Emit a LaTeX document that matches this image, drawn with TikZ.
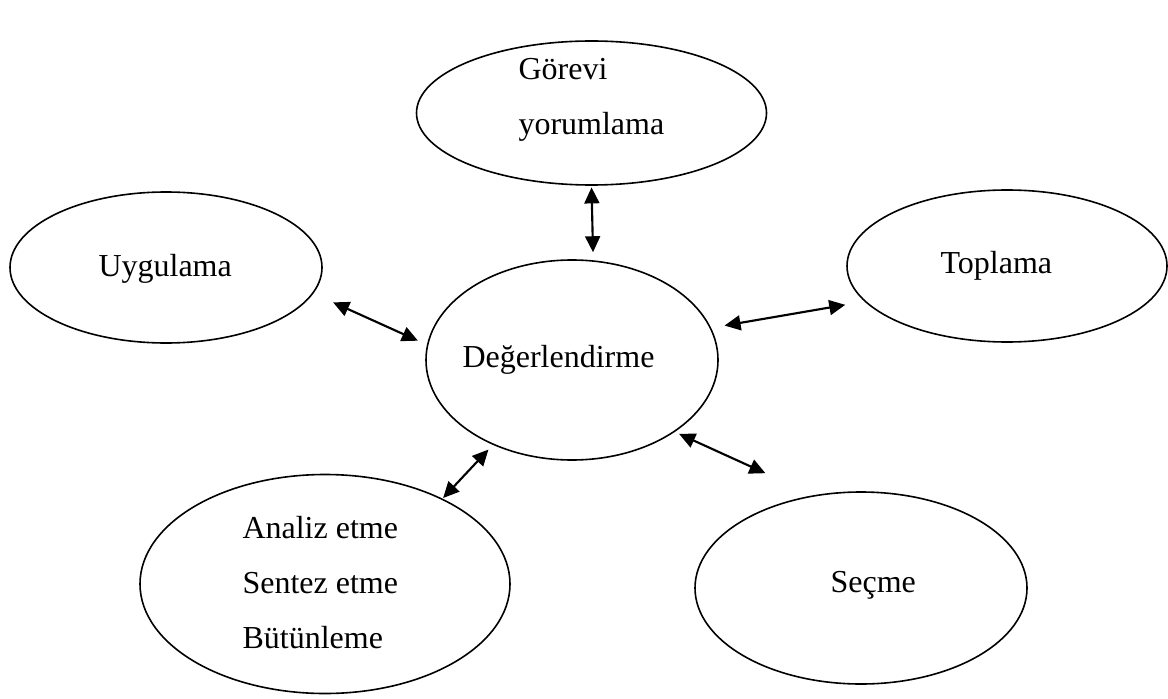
\documentclass[tikz,border=0pt]{standalone}
\usepackage{fontspec}
\setmainfont{Liberation Serif}
\usetikzlibrary{arrows.meta,shapes.geometric}

\begin{document}
\begin{tikzpicture}
	[x=0.375pt,y=-0.375pt,
	 bubble/.style 2 args={draw,ellipse,line width=0.6pt,inner sep=0pt,
		minimum width=#1*0.375pt,minimum height=#2*0.375pt},
	 link/.style={{Triangle[length=6pt,width=5.6pt]}-{Triangle[length=6pt,width=5.6pt]},line width=0.8pt},
	 word/.style={inner sep=0pt,font=\fontsize{12}{20.6}\selectfont}]
	\useasboundingbox (0,0) rectangle (1168,698);
	% the six stages
	\node[bubble={350}{144}] (gorev) at (591.5,113) {};
	\node[bubble={312}{151}] (uyg) at (166,267.5) {};
	\node[bubble={320}{152}] (topl) at (1007,266) {};
	\node[bubble={292}{200}] (deger) at (572,360) {};
	\node[bubble={370}{219}] (analiz) at (325,584) {};
	\node[bubble={332}{192}] (secme) at (861,588) {};

	% texts
	\node[word,align=left,anchor=north west] (gorev-t) at (518,58) {Görevi\\yorumlama};
	\node[word,anchor=base west] (uyg-t) at (98,277) {Uygulama};
	\node[word,anchor=base west] (topl-t) at (940,273) {Toplama};
	\node[word,anchor=base west] (deger-t) at (462,367) {Değerlendirme};
	\node[word,align=left,anchor=north west] (analiz-t) at (242,516) {Analiz etme\\Sentez etme\\Bütünleme};
	\node[word,anchor=base west] (secme-t) at (830,592) {Seçme};

	% links to the centre
	\draw[link,shorten <=0.6pt,shorten >=3pt] (gorev.south) -- (deger.78.9);
	\draw[link,shorten <=8.1pt,shorten >=3.7pt] (uyg.-10.3) -- (deger.174.8);
	\draw[link,shorten <=5.1pt,shorten >=7.3pt] (deger.13.4) -- (topl.194.3);
	\draw[link,shorten <=1.8pt,shorten >=19.9pt] (deger.-35.4) -- (secme.117.9);
	\draw[link,shorten <=2.4pt,shorten >=0.3pt] (deger.227.2) -- (analiz.36.4);
\end{tikzpicture}
\end{document}
